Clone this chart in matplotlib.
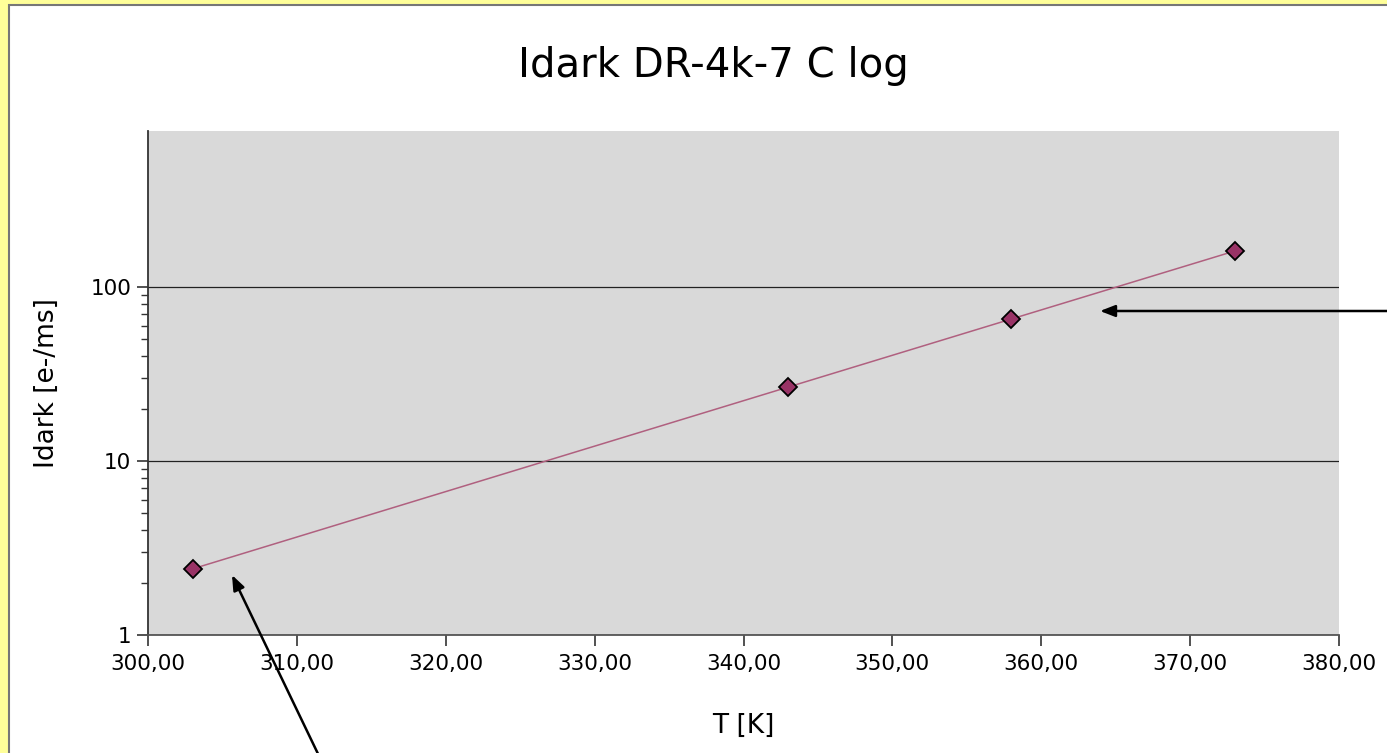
import matplotlib
matplotlib.use("Agg")
import matplotlib.pyplot as plt
from matplotlib.patches import Rectangle
from matplotlib.ticker import FixedLocator, NullFormatter, FuncFormatter

# Dark current vs temperature
temperature_k = [303.0, 343.0, 358.0, 373.0]
idark_e_per_ms = [2.4, 26.6, 65.5, 161.0]
x_ticks = [300, 310, 320, 330, 340, 350, 360, 370, 380]
y_ticks = [1, 10, 100]
y_minor_ticks = [m * d for d in (1, 10) for m in range(2, 10)]

W, H = 1387, 753
fig = plt.figure(figsize=(W / 100, H / 100), dpi=100)
fig.patch.set_facecolor("#ffff99")

# White chart sheet with a thin grey frame
fig.patches.append(Rectangle((9 / W, -0.01), 1.02, (H - 5) / H + 0.01,
                             transform=fig.transFigure, facecolor="white",
                             edgecolor="#777777", linewidth=1.5, zorder=-5))

ax = fig.add_axes([148 / W, 1 - 635 / H, (1339 - 148) / W, (635 - 131) / H])
ax.set_zorder(2)
ax.set_facecolor("#d9d9d9")
ax.set_yscale("log")
ax.set_xlim(300, 380)
ax.set_ylim(1, 10 ** (2 + 156 / 174))

ax.yaxis.set_major_locator(FixedLocator(y_ticks))
ax.yaxis.set_major_formatter(FuncFormatter(lambda v, p: f"{v:g}"))
ax.yaxis.set_minor_locator(FixedLocator(y_minor_ticks))
ax.yaxis.set_minor_formatter(NullFormatter())
ax.xaxis.set_major_locator(FixedLocator(x_ticks))
ax.xaxis.set_major_formatter(FuncFormatter(lambda v, p: f"{v:.2f}".replace(".", ",")))

ax.grid(True, which="major", axis="y", color="#222222", linewidth=0.9)
for s in ["top", "right"]:
    ax.spines[s].set_visible(False)
ax.spines["left"].set_color("#333333")
ax.spines["bottom"].set_color("#555555")
ax.spines["left"].set_linewidth(1.3)
ax.spines["bottom"].set_linewidth(1.3)

ax.tick_params(axis="both", which="major", direction="out", length=8,
               width=1.2, labelsize=15.5, colors="#333333", labelcolor="black")
ax.tick_params(axis="y", which="minor", direction="out", length=5, width=1,
               colors="#333333")
ax.tick_params(axis="x", pad=6)
ax.tick_params(axis="y", pad=4)

ax.plot(temperature_k, idark_e_per_ms, color="#b0607f", linewidth=1.1,
        marker="D", markersize=9, markerfacecolor="#993366",
        markeredgecolor="black", markeredgewidth=1.3, zorder=3)

fig.text(713 / W, 1 - 66 / H, "Idark DR-4k-7 C log", ha="center", va="center",
         fontsize=29)
ax.set_xlabel("T [K]", fontsize=19, labelpad=28)
ax.set_ylabel("Idark [e-/ms]", fontsize=19, labelpad=22)

arrow = dict(arrowstyle="-|>,head_length=0.9,head_width=0.35", color="black",
             linewidth=1.8, shrinkA=0, shrinkB=0)
ax.annotate("", xy=(1100, H - 311), xycoords="figure pixels",
            xytext=(1395, H - 311), textcoords="figure pixels",
            arrowprops=arrow, annotation_clip=False)
ax.annotate("", xy=(232, H - 575), xycoords="figure pixels",
            xytext=(320, -5), textcoords="figure pixels",
            arrowprops=arrow, annotation_clip=False)

fig.savefig("out.png", dpi=100, facecolor=fig.get_facecolor())
